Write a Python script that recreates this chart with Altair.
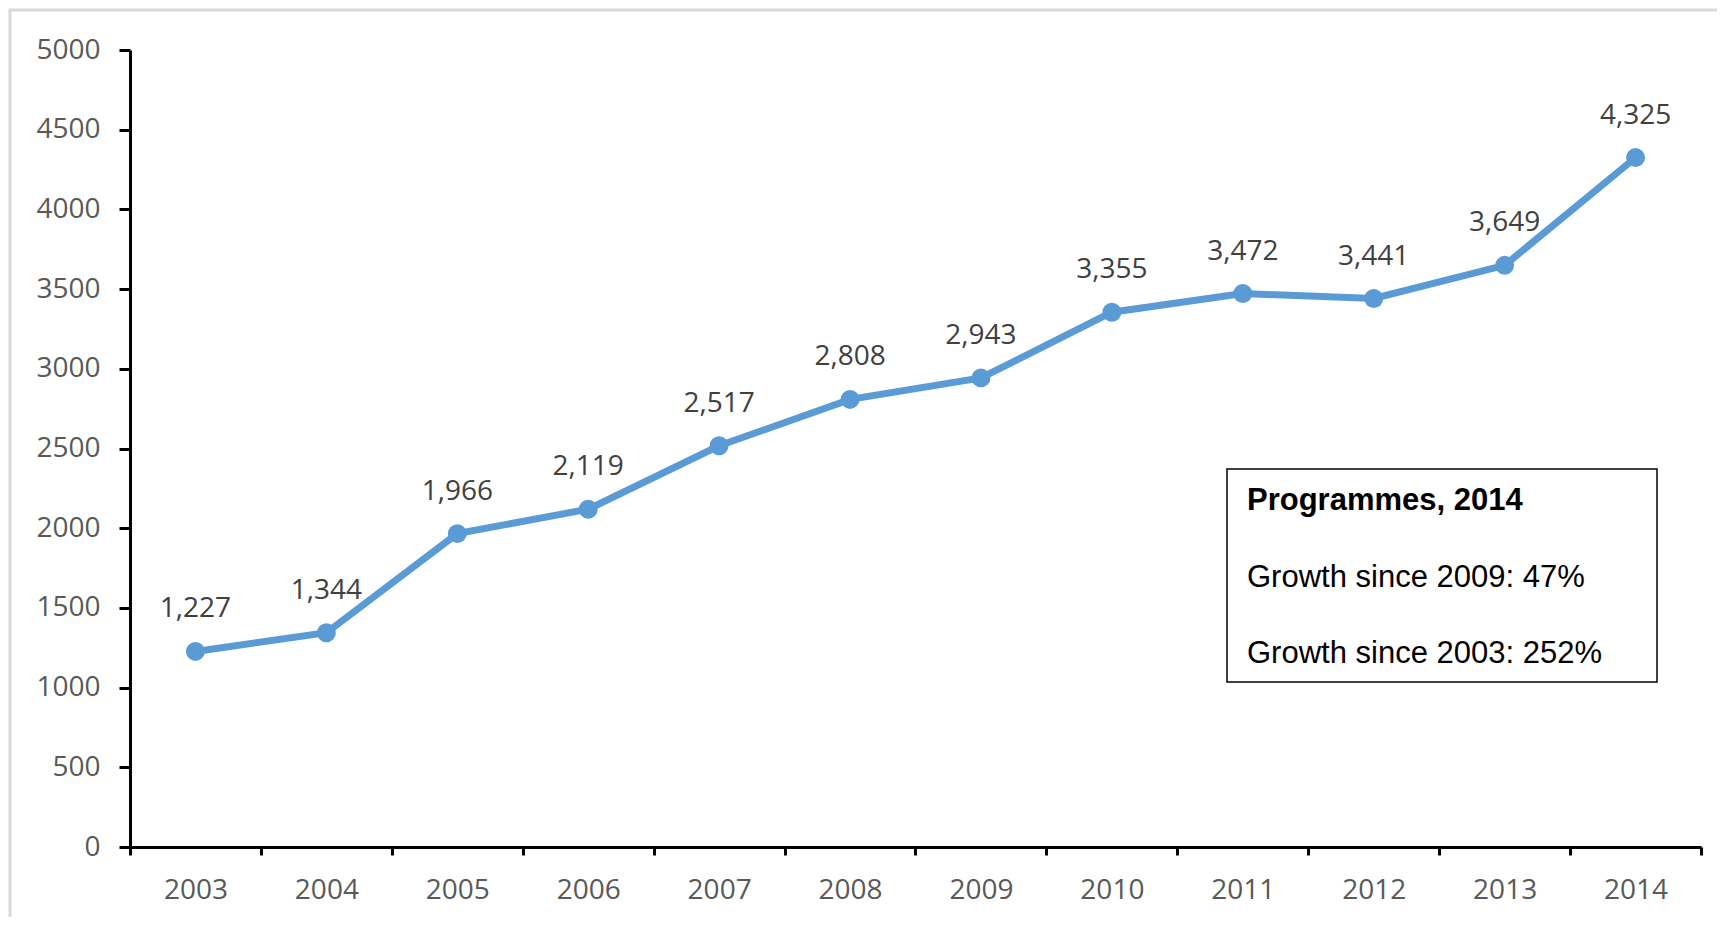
import altair as alt
import pandas as pd

years = ["2003", "2004", "2005", "2006", "2007", "2008", "2009", "2010", "2011", "2012", "2013", "2014"]
programmes = [1227, 1344, 1966, 2119, 2517, 2808, 2943, 3355, 3472, 3441, 3649, 4325]
y_ticks = [0, 500, 1000, 1500, 2000, 2500, 3000, 3500, 4000, 4500, 5000]
box_lines = ["Programmes, 2014", "Growth since 2009: 47%", "Growth since 2003: 252%"]

df = pd.DataFrame({"year": years, "value": programmes})

FONT = "Open Sans"
BLUE = "#5B9BD5"

x_enc = alt.X(
    "year:O",
    bandPosition=0.5,
    scale=alt.Scale(type="band", paddingInner=0, paddingOuter=0),
    axis=alt.Axis(
        title=None, labelAngle=0, tickBand="extent", labelFont=FONT, labelFontSize=28,
        labelColor="#595959", domainColor="black", domainWidth=3, tickColor="black",
        tickWidth=3, tickSize=8, labelPadding=21, grid=False,
    ),
)
y_enc = alt.Y(
    "value:Q",
    scale=alt.Scale(domain=[0, 5000], nice=False),
    axis=alt.Axis(
        title=None, values=y_ticks, format="d", labelFont=FONT, labelFontSize=28, labelColor="#595959",
        domainColor="black", domainWidth=3, tickColor="black", tickWidth=3, tickSize=11,
        labelPadding=19, grid=False,
    ),
)

base = alt.Chart(df)
line = base.mark_line(color=BLUE, strokeWidth=7).encode(x=x_enc, y=y_enc)
pts = base.mark_point(color=BLUE, filled=True, opacity=1, size=360).encode(x=x_enc, y=y_enc)
labels = base.mark_text(font=FONT, fontSize=28, color="#404040", dy=-34, baseline="alphabetic").encode(
    x=x_enc, y=y_enc, text=alt.Text("value:Q", format=",")
)

frame = alt.Chart(pd.DataFrame({"a": [0]})).mark_rect(
    fill=None, stroke="#D9D9D9", strokeWidth=3
).encode(x=alt.value(-120), x2=alt.value(1800), y=alt.value(-40), y2=alt.value(1000))

box = alt.Chart(pd.DataFrame({"a": [0]})).mark_rect(
    fill="white", stroke="black", strokeWidth=1.5
).encode(x=alt.value(1097), x2=alt.value(1527), y=alt.value(419), y2=alt.value(632))

box_df = pd.DataFrame({"t": box_lines})
TXT = dict(font="Liberation Sans", fontSize=31, align="left", baseline="alphabetic", color="black")
box_title = alt.Chart(box_df.iloc[[0]]).mark_text(fontWeight="bold", **TXT).encode(
    x=alt.value(1117), y=alt.value(460), text="t:N")
box_l2 = alt.Chart(box_df.iloc[[1]]).mark_text(**TXT).encode(
    x=alt.value(1117), y=alt.value(537), text="t:N")
box_l3 = alt.Chart(box_df.iloc[[2]]).mark_text(**TXT).encode(
    x=alt.value(1117), y=alt.value(613), text="t:N")

chart = alt.layer(frame, line, pts, labels, box, box_title, box_l2, box_l3).properties(
    width=1571, height=797,
    padding={"left": 122, "top": 42, "right": 16, "bottom": 70},
    autosize=alt.AutoSizeParams(type="none"),
).configure(background="white").configure_view(strokeWidth=0)

chart.save("out.html", embed_options={"renderer": "svg", "actions": False})
